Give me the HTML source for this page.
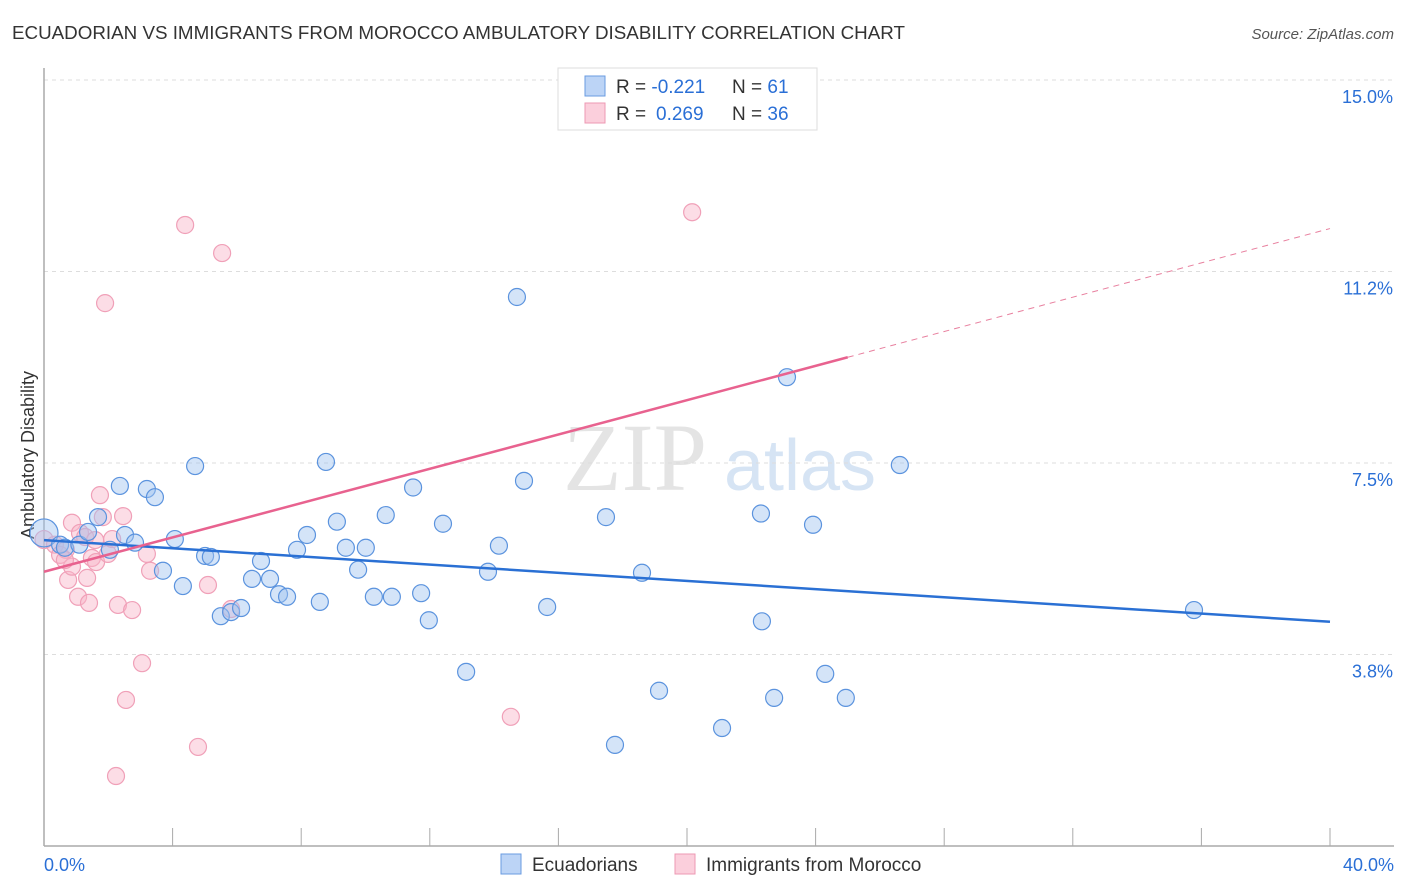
<!DOCTYPE html>
<html><head><meta charset="utf-8"><style>
body{margin:0;background:#fff;font-family:"Liberation Sans",sans-serif;}
svg{display:block}
</style></head><body>
<svg id="chart" width="1406" height="892">
<text x="12" y="39" font-size="18.8" fill="#333">ECUADORIAN VS IMMIGRANTS FROM MOROCCO AMBULATORY DISABILITY CORRELATION CHART</text>
<text x="1394" y="39" font-size="15" fill="#555" font-style="italic" text-anchor="end">Source: ZipAtlas.com</text>
<text x="0" y="0" transform="translate(34,455) rotate(-90)" font-size="18" fill="#333" text-anchor="middle">Ambulatory Disability</text>
<text x="635" y="490" font-size="96" fill="#e4e4e4" font-family="Liberation Serif" text-anchor="middle">ZIP</text>
<text x="800" y="490" font-size="72" fill="#d6e4f4" text-anchor="middle">atlas</text>
<g id="grid"></g><g id="axes"></g><g id="marks"></g>
<g>
<rect x="558" y="68" width="259" height="62" fill="#fff" stroke="#ddd"/>
<rect x="585" y="76" width="20" height="20" fill="#bcd4f6" stroke="#6a9be0"/>
<rect x="585" y="103" width="20" height="20" fill="#fbcfdc" stroke="#ee98b3"/>
<text x="616" y="93" font-size="19" fill="#333">R = <tspan fill="#2a6fd6">-0.221</tspan><tspan x="732">N = </tspan><tspan fill="#2a6fd6">61</tspan></text>
<text x="616" y="120" font-size="19" fill="#333">R = <tspan fill="#2a6fd6" x="656">0.269</tspan><tspan x="732">N = </tspan><tspan fill="#2a6fd6">36</tspan></text>
</g>
<g>
<rect x="501" y="854" width="20" height="20" fill="#bcd4f6" stroke="#6a9be0"/>
<text x="532" y="871" font-size="19" fill="#333">Ecuadorians</text>
<rect x="675" y="854" width="20" height="20" fill="#fbcfdc" stroke="#ee98b3"/>
<text x="706" y="871" font-size="19" fill="#333">Immigrants from Morocco</text>
</g>
</svg>
<script>
const yTicks=[3.75,7.5,11.25,15];
const yTickLabels=["3.8%","7.5%","11.2%","15.0%"];
const xTickLabels=["0.0%","40.0%"];
const blueX=[0,0.5,0.65,1.1,1.37,1.68,2.36,3.2,3.45,2.52,2.83,2.05,3.7,4.07,4.32,4.7,5.01,5.19,5.5,5.82,6.13,6.47,6.75,7.03,7.31,7.56,7.87,8.18,8.58,8.77,9.11,9.39,9.77,10.01,10.26,10.82,10.63,11.48,11.73,11.97,12.41,13.13,13.81,14.15,14.71,14.93,15.65,17.48,17.76,18.6,19.13,21.09,22.3,22.33,22.71,23.11,23.92,24.3,24.94,26.62,35.77];
const blueY=[6.13,5.9,5.84,5.9,6.15,6.44,7.05,6.99,6.83,6.09,5.94,5.8,5.39,6.01,5.09,7.44,5.68,5.66,4.5,4.58,4.66,5.23,5.58,5.23,4.93,4.88,5.8,6.09,4.78,7.52,6.35,5.84,5.41,5.84,4.88,4.88,6.48,7.02,4.95,4.42,6.31,3.41,5.37,5.88,10.75,7.15,4.68,6.44,1.98,5.35,3.04,2.31,6.51,4.4,2.9,9.18,6.29,3.37,2.9,7.46,4.62];
const pinkX=[0,0.34,0.5,0.68,0.75,0.87,0.87,1.06,1.34,1.4,1.49,1.62,1.74,1.83,1.9,1.99,2.12,2.3,2.46,2.55,2.74,3.05,3.2,3.3,4.39,4.79,5.1,5.54,5.82,2.24,14.52,20.16,1.12,1.28,1.59,0.65];
const pinkY=[6.0,5.9,5.7,5.8,5.21,6.33,5.47,4.88,5.25,4.76,5.64,5.56,6.87,6.44,10.63,5.72,6.01,4.72,6.46,2.86,4.62,3.58,5.72,5.39,12.16,1.94,5.11,11.61,4.64,1.37,2.53,12.41,6.13,6.05,5.99,5.6];
const blueLine=[5.99,4.39];
const pinkLine=[5.37,0.168];
const X=v=>44+v*32.15, Y=v=>846-v*51.07;
const NS="http://www.w3.org/2000/svg";
function mk(parent,tag,attrs){const e=document.createElementNS(NS,tag);for(const k in attrs)e.setAttribute(k,attrs[k]);document.getElementById(parent).appendChild(e);return e;}
yTicks.forEach((t,i)=>{
 const g=mk('grid','line',{x1:44,x2:1394,y1:Y(t),y2:Y(t),stroke:'#ddd','stroke-dasharray':'4,4'});
 
 
 const l=mk('axes','text',{x:1393,y:Y(t)+23,'font-size':18,fill:'#2a6fd6','text-anchor':'end'});
 l.textContent=yTickLabels[i];
 
 
});
const ya=mk('axes','line',{x1:44,x2:44,y1:68,y2:846,stroke:'#aaa','stroke-width':1.5});


const xa=mk('axes','line',{x1:44,x2:1394,y1:846,y2:846,stroke:'#aaa','stroke-width':1.5});


for(let i=0;i<=10;i++){const t=mk('axes','line',{x1:X(i*4),x2:X(i*4),y1:828,y2:846,stroke:'#aaa'});
 
 }
[[0,'start',44],[40,'end',1394]].forEach((d,i)=>{const t=mk('axes','text',{x:d[2],y:871,'font-size':18,fill:'#2a6fd6','text-anchor':d[1]});t.textContent=xTickLabels[i];
 
 });
pinkX.forEach((x,i)=>{const c=mk('marks','circle',{cx:X(x),cy:Y(pinkY[i]),r:i==0?9:8.5,fill:'rgba(248,180,200,0.45)',stroke:'#f0a0b8','stroke-width':1.2});
 
 });
blueX.forEach((x,i)=>{const c=mk('marks','circle',{cx:X(x),cy:Y(blueY[i]),r:i==0?14:8.5,fill:'rgba(160,195,240,0.45)',stroke:'#5b93de','stroke-width':1.2});
 
 });
const bl=mk('marks','line',{x1:X(0),y1:Y(blueLine[0]),x2:X(40),y2:Y(blueLine[1]),stroke:'#2a70d4','stroke-width':2.5});


const pl=mk('marks','line',{x1:X(0),y1:Y(pinkLine[0]),x2:X(25),y2:Y(pinkLine[0]+pinkLine[1]*25),stroke:'#e8628f','stroke-width':2.5});


const pd=mk('marks','line',{x1:X(25),y1:Y(pinkLine[0]+pinkLine[1]*25),x2:X(40),y2:Y(pinkLine[0]+pinkLine[1]*40),stroke:'#e8809f','stroke-width':1,'stroke-dasharray':'6,5'});


</script>
</body></html>
